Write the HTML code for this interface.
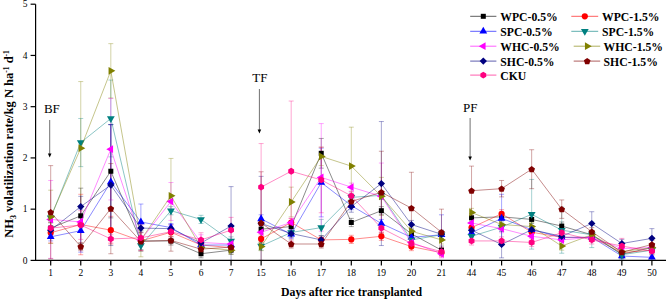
<!DOCTYPE html><html><head><meta charset="utf-8"><style>html,body{margin:0;padding:0;background:#fff;}svg{display:block;}text{font-family:"Liberation Serif",serif;}</style></head><body>
<svg width="668" height="299" viewBox="0 0 668 299">
<g stroke-width="0.7" fill="none">
<path d="M50.70 221.97V234.27M48.20 221.97h5M48.20 234.27h5" stroke="#000000" stroke-opacity="0.5"/>
<path d="M80.76 188.15V243.49M78.26 188.15h5M78.26 243.49h5" stroke="#000000" stroke-opacity="0.5"/>
<path d="M110.82 124.61V217.87M108.32 124.61h5M108.32 217.87h5" stroke="#000000" stroke-opacity="0.5"/>
<path d="M140.88 230.68V251.18M138.38 230.68h5M138.38 251.18h5" stroke="#000000" stroke-opacity="0.5"/>
<path d="M170.94 236.83V245.03M168.44 236.83h5M168.44 245.03h5" stroke="#000000" stroke-opacity="0.5"/>
<path d="M201.00 249.64V257.84M198.50 249.64h5M198.50 257.84h5" stroke="#000000" stroke-opacity="0.5"/>
<path d="M231.06 246.05V254.25M228.56 246.05h5M228.56 254.25h5" stroke="#000000" stroke-opacity="0.5"/>
<path d="M261.12 225.04V233.24M258.62 225.04h5M258.62 233.24h5" stroke="#000000" stroke-opacity="0.5"/>
<path d="M291.18 222.48V230.68M288.68 222.48h5M288.68 230.68h5" stroke="#000000" stroke-opacity="0.5"/>
<path d="M321.24 138.45V168.17M318.74 138.45h5M318.74 168.17h5" stroke="#000000" stroke-opacity="0.5"/>
<path d="M351.30 218.38V226.58M348.80 218.38h5M348.80 226.58h5" stroke="#000000" stroke-opacity="0.5"/>
<path d="M381.36 206.60V214.80M378.86 206.60h5M378.86 214.80h5" stroke="#000000" stroke-opacity="0.5"/>
<path d="M411.42 229.66V237.85M408.92 229.66h5M408.92 237.85h5" stroke="#000000" stroke-opacity="0.5"/>
<path d="M441.48 246.05V254.25M438.98 246.05h5M438.98 254.25h5" stroke="#000000" stroke-opacity="0.5"/>
<path d="M471.54 213.77V221.97M469.04 213.77h5M469.04 221.97h5" stroke="#000000" stroke-opacity="0.5"/>
<path d="M501.60 212.75V220.95M499.10 212.75h5M499.10 220.95h5" stroke="#000000" stroke-opacity="0.5"/>
<path d="M531.66 215.31V223.51M529.16 215.31h5M529.16 223.51h5" stroke="#000000" stroke-opacity="0.5"/>
<path d="M561.72 221.97V230.17M559.22 221.97h5M559.22 230.17h5" stroke="#000000" stroke-opacity="0.5"/>
<path d="M591.78 230.68V238.88M589.28 230.68h5M589.28 238.88h5" stroke="#000000" stroke-opacity="0.5"/>
<path d="M621.84 250.15V258.35M619.34 250.15h5M619.34 258.35h5" stroke="#000000" stroke-opacity="0.5"/>
<path d="M651.90 243.49V251.69M649.40 243.49h5M649.40 251.69h5" stroke="#000000" stroke-opacity="0.5"/>
<path d="M50.70 222.48V242.98M48.20 222.48h5M48.20 242.98h5" stroke="#ff0000" stroke-opacity="0.5"/>
<path d="M80.76 194.30V254.76M78.26 194.30h5M78.26 254.76h5" stroke="#ff0000" stroke-opacity="0.5"/>
<path d="M110.82 216.33V244.00M108.32 216.33h5M108.32 244.00h5" stroke="#ff0000" stroke-opacity="0.5"/>
<path d="M140.88 236.83V245.03M138.38 236.83h5M138.38 245.03h5" stroke="#ff0000" stroke-opacity="0.5"/>
<path d="M170.94 228.12V236.32M168.44 228.12h5M168.44 236.32h5" stroke="#ff0000" stroke-opacity="0.5"/>
<path d="M201.00 240.93V249.13M198.50 240.93h5M198.50 249.13h5" stroke="#ff0000" stroke-opacity="0.5"/>
<path d="M231.06 243.49V251.69M228.56 243.49h5M228.56 251.69h5" stroke="#ff0000" stroke-opacity="0.5"/>
<path d="M261.12 234.78V242.98M258.62 234.78h5M258.62 242.98h5" stroke="#ff0000" stroke-opacity="0.5"/>
<path d="M291.18 218.38V226.58M288.68 218.38h5M288.68 226.58h5" stroke="#ff0000" stroke-opacity="0.5"/>
<path d="M321.24 235.80V244.00M318.74 235.80h5M318.74 244.00h5" stroke="#ff0000" stroke-opacity="0.5"/>
<path d="M351.30 235.29V243.49M348.80 235.29h5M348.80 243.49h5" stroke="#ff0000" stroke-opacity="0.5"/>
<path d="M381.36 232.22V240.42M378.86 232.22h5M378.86 240.42h5" stroke="#ff0000" stroke-opacity="0.5"/>
<path d="M411.42 242.47V250.66M408.92 242.47h5M408.92 250.66h5" stroke="#ff0000" stroke-opacity="0.5"/>
<path d="M441.48 248.61V256.81M438.98 248.61h5M438.98 256.81h5" stroke="#ff0000" stroke-opacity="0.5"/>
<path d="M471.54 223.51V231.71M469.04 223.51h5M469.04 231.71h5" stroke="#ff0000" stroke-opacity="0.5"/>
<path d="M501.60 209.67V217.87M499.10 209.67h5M499.10 217.87h5" stroke="#ff0000" stroke-opacity="0.5"/>
<path d="M531.66 228.12V236.32M529.16 228.12h5M529.16 236.32h5" stroke="#ff0000" stroke-opacity="0.5"/>
<path d="M561.72 233.24V241.44M559.22 233.24h5M559.22 241.44h5" stroke="#ff0000" stroke-opacity="0.5"/>
<path d="M591.78 233.24V241.44M589.28 233.24h5M589.28 241.44h5" stroke="#ff0000" stroke-opacity="0.5"/>
<path d="M621.84 248.61V256.81M619.34 248.61h5M619.34 256.81h5" stroke="#ff0000" stroke-opacity="0.5"/>
<path d="M651.90 246.05V254.25M649.40 246.05h5M649.40 254.25h5" stroke="#ff0000" stroke-opacity="0.5"/>
<path d="M50.70 232.73V240.93M48.20 232.73h5M48.20 240.93h5" stroke="#0000ff" stroke-opacity="0.5"/>
<path d="M80.76 209.16V252.20M78.26 209.16h5M78.26 252.20h5" stroke="#0000ff" stroke-opacity="0.5"/>
<path d="M110.82 124.61V239.39M108.32 124.61h5M108.32 239.39h5" stroke="#0000ff" stroke-opacity="0.5"/>
<path d="M140.88 204.04V239.90M138.38 204.04h5M138.38 239.90h5" stroke="#0000ff" stroke-opacity="0.5"/>
<path d="M170.94 223.51V231.71M168.44 223.51h5M168.44 231.71h5" stroke="#0000ff" stroke-opacity="0.5"/>
<path d="M201.00 240.93V249.13M198.50 240.93h5M198.50 249.13h5" stroke="#0000ff" stroke-opacity="0.5"/>
<path d="M231.06 240.93V249.13M228.56 240.93h5M228.56 249.13h5" stroke="#0000ff" stroke-opacity="0.5"/>
<path d="M261.12 214.80V222.99M258.62 214.80h5M258.62 222.99h5" stroke="#0000ff" stroke-opacity="0.5"/>
<path d="M291.18 230.17V238.37M288.68 230.17h5M288.68 238.37h5" stroke="#0000ff" stroke-opacity="0.5"/>
<path d="M321.24 148.18V216.85M318.74 148.18h5M318.74 216.85h5" stroke="#0000ff" stroke-opacity="0.5"/>
<path d="M351.30 201.47V209.67M348.80 201.47h5M348.80 209.67h5" stroke="#0000ff" stroke-opacity="0.5"/>
<path d="M381.36 219.41V227.61M378.86 219.41h5M378.86 227.61h5" stroke="#0000ff" stroke-opacity="0.5"/>
<path d="M411.42 233.24V241.44M408.92 233.24h5M408.92 241.44h5" stroke="#0000ff" stroke-opacity="0.5"/>
<path d="M441.48 214.80V254.76M438.98 214.80h5M438.98 254.76h5" stroke="#0000ff" stroke-opacity="0.5"/>
<path d="M471.54 228.63V236.83M469.04 228.63h5M469.04 236.83h5" stroke="#0000ff" stroke-opacity="0.5"/>
<path d="M501.60 194.30V242.47M499.10 194.30h5M499.10 242.47h5" stroke="#0000ff" stroke-opacity="0.5"/>
<path d="M531.66 225.56V233.76M529.16 225.56h5M529.16 233.76h5" stroke="#0000ff" stroke-opacity="0.5"/>
<path d="M561.72 233.24V241.44M559.22 233.24h5M559.22 241.44h5" stroke="#0000ff" stroke-opacity="0.5"/>
<path d="M591.78 233.24V241.44M589.28 233.24h5M589.28 241.44h5" stroke="#0000ff" stroke-opacity="0.5"/>
<path d="M621.84 251.95V260.14M619.34 251.95h5M619.34 260.14h5" stroke="#0000ff" stroke-opacity="0.5"/>
<path d="M651.90 253.23V260.40M649.40 253.23h5M649.40 260.40h5" stroke="#0000ff" stroke-opacity="0.5"/>
<path d="M50.70 212.75V222.99M48.20 212.75h5M48.20 222.99h5" stroke="#008080" stroke-opacity="0.5"/>
<path d="M80.76 118.47V166.63M78.26 118.47h5M78.26 166.63h5" stroke="#008080" stroke-opacity="0.5"/>
<path d="M110.82 80.04V156.90M108.32 80.04h5M108.32 156.90h5" stroke="#008080" stroke-opacity="0.5"/>
<path d="M140.88 241.44V249.64M138.38 241.44h5M138.38 249.64h5" stroke="#008080" stroke-opacity="0.5"/>
<path d="M170.94 206.60V214.80M168.44 206.60h5M168.44 214.80h5" stroke="#008080" stroke-opacity="0.5"/>
<path d="M201.00 215.31V223.51M198.50 215.31h5M198.50 223.51h5" stroke="#008080" stroke-opacity="0.5"/>
<path d="M231.06 236.83V245.03M228.56 236.83h5M228.56 245.03h5" stroke="#008080" stroke-opacity="0.5"/>
<path d="M261.12 241.95V250.15M258.62 241.95h5M258.62 250.15h5" stroke="#008080" stroke-opacity="0.5"/>
<path d="M291.18 228.37V236.57M288.68 228.37h5M288.68 236.57h5" stroke="#008080" stroke-opacity="0.5"/>
<path d="M321.24 219.41V235.80M318.74 219.41h5M318.74 235.80h5" stroke="#008080" stroke-opacity="0.5"/>
<path d="M351.30 193.28V201.47M348.80 193.28h5M348.80 201.47h5" stroke="#008080" stroke-opacity="0.5"/>
<path d="M381.36 191.23V199.42M378.86 191.23h5M378.86 199.42h5" stroke="#008080" stroke-opacity="0.5"/>
<path d="M411.42 235.80V244.00M408.92 235.80h5M408.92 244.00h5" stroke="#008080" stroke-opacity="0.5"/>
<path d="M441.48 230.68V238.88M438.98 230.68h5M438.98 238.88h5" stroke="#008080" stroke-opacity="0.5"/>
<path d="M471.54 232.22V240.42M469.04 232.22h5M469.04 240.42h5" stroke="#008080" stroke-opacity="0.5"/>
<path d="M501.60 222.99V231.19M499.10 222.99h5M499.10 231.19h5" stroke="#008080" stroke-opacity="0.5"/>
<path d="M531.66 179.44V249.13M529.16 179.44h5M529.16 249.13h5" stroke="#008080" stroke-opacity="0.5"/>
<path d="M561.72 207.11V253.23M559.22 207.11h5M559.22 253.23h5" stroke="#008080" stroke-opacity="0.5"/>
<path d="M591.78 221.97V247.59M589.28 221.97h5M589.28 247.59h5" stroke="#008080" stroke-opacity="0.5"/>
<path d="M621.84 250.66V258.86M619.34 250.66h5M619.34 258.86h5" stroke="#008080" stroke-opacity="0.5"/>
<path d="M651.90 246.05V254.25M649.40 246.05h5M649.40 254.25h5" stroke="#008080" stroke-opacity="0.5"/>
<path d="M50.70 180.47V258.35M48.20 180.47h5M48.20 258.35h5" stroke="#ff00ff" stroke-opacity="0.5"/>
<path d="M80.76 217.87V226.07M78.26 217.87h5M78.26 226.07h5" stroke="#ff00ff" stroke-opacity="0.5"/>
<path d="M110.82 98.48V199.94M108.32 98.48h5M108.32 199.94h5" stroke="#ff00ff" stroke-opacity="0.5"/>
<path d="M140.88 235.80V244.00M138.38 235.80h5M138.38 244.00h5" stroke="#ff00ff" stroke-opacity="0.5"/>
<path d="M170.94 182.52V220.43M168.44 182.52h5M168.44 220.43h5" stroke="#ff00ff" stroke-opacity="0.5"/>
<path d="M201.00 234.78V250.15M198.50 234.78h5M198.50 250.15h5" stroke="#ff00ff" stroke-opacity="0.5"/>
<path d="M231.06 239.90V248.10M228.56 239.90h5M228.56 248.10h5" stroke="#ff00ff" stroke-opacity="0.5"/>
<path d="M261.12 228.12V236.32M258.62 228.12h5M258.62 236.32h5" stroke="#ff00ff" stroke-opacity="0.5"/>
<path d="M291.18 218.38V226.58M288.68 218.38h5M288.68 226.58h5" stroke="#ff00ff" stroke-opacity="0.5"/>
<path d="M321.24 123.59V231.19M318.74 123.59h5M318.74 231.19h5" stroke="#ff00ff" stroke-opacity="0.5"/>
<path d="M351.30 183.03V191.23M348.80 183.03h5M348.80 191.23h5" stroke="#ff00ff" stroke-opacity="0.5"/>
<path d="M381.36 163.04V229.66M378.86 163.04h5M378.86 229.66h5" stroke="#ff00ff" stroke-opacity="0.5"/>
<path d="M411.42 238.37V246.57M408.92 238.37h5M408.92 246.57h5" stroke="#ff00ff" stroke-opacity="0.5"/>
<path d="M441.48 249.64V257.84M438.98 249.64h5M438.98 257.84h5" stroke="#ff00ff" stroke-opacity="0.5"/>
<path d="M471.54 218.90V227.09M469.04 218.90h5M469.04 227.09h5" stroke="#ff00ff" stroke-opacity="0.5"/>
<path d="M501.60 224.53V232.73M499.10 224.53h5M499.10 232.73h5" stroke="#ff00ff" stroke-opacity="0.5"/>
<path d="M531.66 232.22V240.42M529.16 232.22h5M529.16 240.42h5" stroke="#ff00ff" stroke-opacity="0.5"/>
<path d="M561.72 235.80V244.00M559.22 235.80h5M559.22 244.00h5" stroke="#ff00ff" stroke-opacity="0.5"/>
<path d="M591.78 233.24V241.44M589.28 233.24h5M589.28 241.44h5" stroke="#ff00ff" stroke-opacity="0.5"/>
<path d="M621.84 244.52V252.71M619.34 244.52h5M619.34 252.71h5" stroke="#ff00ff" stroke-opacity="0.5"/>
<path d="M651.90 243.49V251.69M649.40 243.49h5M649.40 251.69h5" stroke="#ff00ff" stroke-opacity="0.5"/>
<path d="M50.70 190.20V243.49M48.20 190.20h5M48.20 243.49h5" stroke="#808000" stroke-opacity="0.5"/>
<path d="M80.76 81.57V214.80M78.26 81.57h5M78.26 214.80h5" stroke="#808000" stroke-opacity="0.5"/>
<path d="M110.82 43.65V97.97M108.32 43.65h5M108.32 97.97h5" stroke="#808000" stroke-opacity="0.5"/>
<path d="M140.88 222.99V256.81M138.38 222.99h5M138.38 256.81h5" stroke="#808000" stroke-opacity="0.5"/>
<path d="M170.94 158.43V233.24M168.44 158.43h5M168.44 233.24h5" stroke="#808000" stroke-opacity="0.5"/>
<path d="M201.00 243.49V251.69M198.50 243.49h5M198.50 251.69h5" stroke="#808000" stroke-opacity="0.5"/>
<path d="M231.06 246.05V254.25M228.56 246.05h5M228.56 254.25h5" stroke="#808000" stroke-opacity="0.5"/>
<path d="M261.12 242.47V250.66M258.62 242.47h5M258.62 250.66h5" stroke="#808000" stroke-opacity="0.5"/>
<path d="M291.18 187.13V216.85M288.68 187.13h5M288.68 216.85h5" stroke="#808000" stroke-opacity="0.5"/>
<path d="M321.24 147.16V165.61M318.74 147.16h5M318.74 165.61h5" stroke="#808000" stroke-opacity="0.5"/>
<path d="M351.30 127.18V205.06M348.80 127.18h5M348.80 205.06h5" stroke="#808000" stroke-opacity="0.5"/>
<path d="M381.36 177.39V215.31M378.86 177.39h5M378.86 215.31h5" stroke="#808000" stroke-opacity="0.5"/>
<path d="M411.42 227.09V235.29M408.92 227.09h5M408.92 235.29h5" stroke="#808000" stroke-opacity="0.5"/>
<path d="M441.48 235.80V244.00M438.98 235.80h5M438.98 244.00h5" stroke="#808000" stroke-opacity="0.5"/>
<path d="M471.54 208.39V216.59M469.04 208.39h5M469.04 216.59h5" stroke="#808000" stroke-opacity="0.5"/>
<path d="M501.60 220.43V228.63M499.10 220.43h5M499.10 228.63h5" stroke="#808000" stroke-opacity="0.5"/>
<path d="M531.66 222.48V230.68M529.16 222.48h5M529.16 230.68h5" stroke="#808000" stroke-opacity="0.5"/>
<path d="M561.72 241.95V250.15M559.22 241.95h5M559.22 250.15h5" stroke="#808000" stroke-opacity="0.5"/>
<path d="M591.78 230.68V238.88M589.28 230.68h5M589.28 238.88h5" stroke="#808000" stroke-opacity="0.5"/>
<path d="M621.84 247.59V255.79M619.34 247.59h5M619.34 255.79h5" stroke="#808000" stroke-opacity="0.5"/>
<path d="M651.90 243.49V251.69M649.40 243.49h5M649.40 251.69h5" stroke="#808000" stroke-opacity="0.5"/>
<path d="M50.70 226.07V234.27M48.20 226.07h5M48.20 234.27h5" stroke="#000080" stroke-opacity="0.5"/>
<path d="M80.76 196.35V216.85M78.26 196.35h5M78.26 216.85h5" stroke="#000080" stroke-opacity="0.5"/>
<path d="M110.82 124.61V245.54M108.32 124.61h5M108.32 245.54h5" stroke="#000080" stroke-opacity="0.5"/>
<path d="M140.88 224.02V232.22M138.38 224.02h5M138.38 232.22h5" stroke="#000080" stroke-opacity="0.5"/>
<path d="M170.94 224.53V232.73M168.44 224.53h5M168.44 232.73h5" stroke="#000080" stroke-opacity="0.5"/>
<path d="M201.00 238.88V247.08M198.50 238.88h5M198.50 247.08h5" stroke="#000080" stroke-opacity="0.5"/>
<path d="M231.06 186.61V260.40M228.56 186.61h5M228.56 260.40h5" stroke="#000080" stroke-opacity="0.5"/>
<path d="M261.12 176.37V260.40M258.62 176.37h5M258.62 260.40h5" stroke="#000080" stroke-opacity="0.5"/>
<path d="M291.18 229.40V237.60M288.68 229.40h5M288.68 237.60h5" stroke="#000080" stroke-opacity="0.5"/>
<path d="M321.24 235.80V244.00M318.74 235.80h5M318.74 244.00h5" stroke="#000080" stroke-opacity="0.5"/>
<path d="M351.30 200.96V212.23M348.80 200.96h5M348.80 212.23h5" stroke="#000080" stroke-opacity="0.5"/>
<path d="M381.36 121.54V245.54M378.86 121.54h5M378.86 245.54h5" stroke="#000080" stroke-opacity="0.5"/>
<path d="M411.42 220.43V228.63M408.92 220.43h5M408.92 228.63h5" stroke="#000080" stroke-opacity="0.5"/>
<path d="M441.48 230.17V238.37M438.98 230.17h5M438.98 238.37h5" stroke="#000080" stroke-opacity="0.5"/>
<path d="M471.54 226.07V234.27M469.04 226.07h5M469.04 234.27h5" stroke="#000080" stroke-opacity="0.5"/>
<path d="M501.60 231.19V257.84M499.10 231.19h5M499.10 257.84h5" stroke="#000080" stroke-opacity="0.5"/>
<path d="M531.66 225.56V233.76M529.16 225.56h5M529.16 233.76h5" stroke="#000080" stroke-opacity="0.5"/>
<path d="M561.72 232.22V240.42M559.22 232.22h5M559.22 240.42h5" stroke="#000080" stroke-opacity="0.5"/>
<path d="M591.78 211.72V235.29M589.28 211.72h5M589.28 235.29h5" stroke="#000080" stroke-opacity="0.5"/>
<path d="M621.84 239.39V247.59M619.34 239.39h5M619.34 247.59h5" stroke="#000080" stroke-opacity="0.5"/>
<path d="M651.90 228.63V248.10M649.40 228.63h5M649.40 248.10h5" stroke="#000080" stroke-opacity="0.5"/>
<path d="M50.70 165.61V258.86M48.20 165.61h5M48.20 258.86h5" stroke="#800000" stroke-opacity="0.5"/>
<path d="M80.76 242.47V250.66M78.26 242.47h5M78.26 250.66h5" stroke="#800000" stroke-opacity="0.5"/>
<path d="M110.82 163.56V253.74M108.32 163.56h5M108.32 253.74h5" stroke="#800000" stroke-opacity="0.5"/>
<path d="M140.88 232.73V250.15M138.38 232.73h5M138.38 250.15h5" stroke="#800000" stroke-opacity="0.5"/>
<path d="M170.94 229.66V251.18M168.44 229.66h5M168.44 251.18h5" stroke="#800000" stroke-opacity="0.5"/>
<path d="M201.00 245.03V253.23M198.50 245.03h5M198.50 253.23h5" stroke="#800000" stroke-opacity="0.5"/>
<path d="M231.06 242.98V251.18M228.56 242.98h5M228.56 251.18h5" stroke="#800000" stroke-opacity="0.5"/>
<path d="M261.12 171.75V260.40M258.62 171.75h5M258.62 260.40h5" stroke="#800000" stroke-opacity="0.5"/>
<path d="M291.18 239.90V248.10M288.68 239.90h5M288.68 248.10h5" stroke="#800000" stroke-opacity="0.5"/>
<path d="M321.24 239.90V248.10M318.74 239.90h5M318.74 248.10h5" stroke="#800000" stroke-opacity="0.5"/>
<path d="M351.30 197.37V205.57M348.80 197.37h5M348.80 205.57h5" stroke="#800000" stroke-opacity="0.5"/>
<path d="M381.36 151.26V233.24M378.86 151.26h5M378.86 233.24h5" stroke="#800000" stroke-opacity="0.5"/>
<path d="M411.42 172.27V244.00M408.92 172.27h5M408.92 244.00h5" stroke="#800000" stroke-opacity="0.5"/>
<path d="M441.48 209.16V255.28M438.98 209.16h5M438.98 255.28h5" stroke="#800000" stroke-opacity="0.5"/>
<path d="M471.54 166.12V215.31M469.04 166.12h5M469.04 215.31h5" stroke="#800000" stroke-opacity="0.5"/>
<path d="M501.60 180.47V196.86M499.10 180.47h5M499.10 196.86h5" stroke="#800000" stroke-opacity="0.5"/>
<path d="M531.66 149.72V188.66M529.16 149.72h5M529.16 188.66h5" stroke="#800000" stroke-opacity="0.5"/>
<path d="M561.72 199.94V218.38M559.22 199.94h5M559.22 218.38h5" stroke="#800000" stroke-opacity="0.5"/>
<path d="M591.78 227.61V235.80M589.28 227.61h5M589.28 235.80h5" stroke="#800000" stroke-opacity="0.5"/>
<path d="M621.84 248.10V256.30M619.34 248.10h5M619.34 256.30h5" stroke="#800000" stroke-opacity="0.5"/>
<path d="M651.90 240.42V248.61M649.40 240.42h5M649.40 248.61h5" stroke="#800000" stroke-opacity="0.5"/>
<path d="M50.70 220.43V235.80M48.20 220.43h5M48.20 235.80h5" stroke="#ff0080" stroke-opacity="0.5"/>
<path d="M80.76 210.70V239.39M78.26 210.70h5M78.26 239.39h5" stroke="#ff0080" stroke-opacity="0.5"/>
<path d="M110.82 234.78V242.98M108.32 234.78h5M108.32 242.98h5" stroke="#ff0080" stroke-opacity="0.5"/>
<path d="M140.88 225.04V250.66M138.38 225.04h5M138.38 250.66h5" stroke="#ff0080" stroke-opacity="0.5"/>
<path d="M170.94 225.04V238.37M168.44 225.04h5M168.44 238.37h5" stroke="#ff0080" stroke-opacity="0.5"/>
<path d="M201.00 232.73V247.08M198.50 232.73h5M198.50 247.08h5" stroke="#ff0080" stroke-opacity="0.5"/>
<path d="M231.06 217.36V242.98M228.56 217.36h5M228.56 242.98h5" stroke="#ff0080" stroke-opacity="0.5"/>
<path d="M261.12 143.57V230.68M258.62 143.57h5M258.62 230.68h5" stroke="#ff0080" stroke-opacity="0.5"/>
<path d="M291.18 101.04V241.44M288.68 101.04h5M288.68 241.44h5" stroke="#ff0080" stroke-opacity="0.5"/>
<path d="M321.24 147.16V212.75M318.74 147.16h5M318.74 212.75h5" stroke="#ff0080" stroke-opacity="0.5"/>
<path d="M351.30 191.74V199.94M348.80 191.74h5M348.80 199.94h5" stroke="#ff0080" stroke-opacity="0.5"/>
<path d="M381.36 224.02V232.22M378.86 224.02h5M378.86 232.22h5" stroke="#ff0080" stroke-opacity="0.5"/>
<path d="M411.42 239.39V247.59M408.92 239.39h5M408.92 247.59h5" stroke="#ff0080" stroke-opacity="0.5"/>
<path d="M441.48 247.59V255.79M438.98 247.59h5M438.98 255.79h5" stroke="#ff0080" stroke-opacity="0.5"/>
<path d="M471.54 236.83V245.03M469.04 236.83h5M469.04 245.03h5" stroke="#ff0080" stroke-opacity="0.5"/>
<path d="M501.60 236.83V245.03M499.10 236.83h5M499.10 245.03h5" stroke="#ff0080" stroke-opacity="0.5"/>
<path d="M531.66 238.37V246.57M529.16 238.37h5M529.16 246.57h5" stroke="#ff0080" stroke-opacity="0.5"/>
<path d="M561.72 228.63V236.83M559.22 228.63h5M559.22 236.83h5" stroke="#ff0080" stroke-opacity="0.5"/>
<path d="M591.78 235.80V244.00M589.28 235.80h5M589.28 244.00h5" stroke="#ff0080" stroke-opacity="0.5"/>
<path d="M621.84 238.37V253.74M619.34 238.37h5M619.34 253.74h5" stroke="#ff0080" stroke-opacity="0.5"/>
<path d="M651.90 247.08V255.28M649.40 247.08h5M649.40 255.28h5" stroke="#ff0080" stroke-opacity="0.5"/>
</g>
<g stroke="#000000" stroke-width="0.7" fill="none" stroke-opacity="0.65">
<path d="M50.70 228.12 L80.76 215.82 L110.82 171.24 L140.88 240.93 L170.94 240.93 L201.00 253.74 L231.06 250.15"/>
<path d="M261.12 229.14 L291.18 226.58 L321.24 153.31 L351.30 222.48 L381.36 210.70 L411.42 233.76 L441.48 250.15"/>
<path d="M471.54 217.87 L501.60 216.85 L531.66 219.41 L561.72 226.07 L591.78 234.78 L621.84 254.25 L651.90 247.59"/>
</g>
<g>
<rect x="48.20" y="225.62" width="5.00" height="5.00" fill="#000000"/>
<rect x="78.26" y="213.32" width="5.00" height="5.00" fill="#000000"/>
<rect x="108.32" y="168.74" width="5.00" height="5.00" fill="#000000"/>
<rect x="138.38" y="238.43" width="5.00" height="5.00" fill="#000000"/>
<rect x="168.44" y="238.43" width="5.00" height="5.00" fill="#000000"/>
<rect x="198.50" y="251.24" width="5.00" height="5.00" fill="#000000"/>
<rect x="228.56" y="247.65" width="5.00" height="5.00" fill="#000000"/>
<rect x="258.62" y="226.64" width="5.00" height="5.00" fill="#000000"/>
<rect x="288.68" y="224.08" width="5.00" height="5.00" fill="#000000"/>
<rect x="318.74" y="150.81" width="5.00" height="5.00" fill="#000000"/>
<rect x="348.80" y="219.98" width="5.00" height="5.00" fill="#000000"/>
<rect x="378.86" y="208.20" width="5.00" height="5.00" fill="#000000"/>
<rect x="408.92" y="231.26" width="5.00" height="5.00" fill="#000000"/>
<rect x="438.98" y="247.65" width="5.00" height="5.00" fill="#000000"/>
<rect x="469.04" y="215.37" width="5.00" height="5.00" fill="#000000"/>
<rect x="499.10" y="214.35" width="5.00" height="5.00" fill="#000000"/>
<rect x="529.16" y="216.91" width="5.00" height="5.00" fill="#000000"/>
<rect x="559.22" y="223.57" width="5.00" height="5.00" fill="#000000"/>
<rect x="589.28" y="232.28" width="5.00" height="5.00" fill="#000000"/>
<rect x="619.34" y="251.75" width="5.00" height="5.00" fill="#000000"/>
<rect x="649.40" y="245.09" width="5.00" height="5.00" fill="#000000"/>
</g>
<g stroke="#ff0000" stroke-width="0.7" fill="none" stroke-opacity="0.65">
<path d="M50.70 232.73 L80.76 224.53 L110.82 230.17 L140.88 240.93 L170.94 232.22 L201.00 245.03 L231.06 247.59"/>
<path d="M261.12 238.88 L291.18 222.48 L321.24 239.90 L351.30 239.39 L381.36 236.32 L411.42 246.57 L441.48 252.71"/>
<path d="M471.54 227.61 L501.60 213.77 L531.66 232.22 L561.72 237.34 L591.78 237.34 L621.84 252.71 L651.90 250.15"/>
</g>
<g>
<circle cx="50.70" cy="232.73" r="3.10" fill="#ff0000"/>
<circle cx="80.76" cy="224.53" r="3.10" fill="#ff0000"/>
<circle cx="110.82" cy="230.17" r="3.10" fill="#ff0000"/>
<circle cx="140.88" cy="240.93" r="3.10" fill="#ff0000"/>
<circle cx="170.94" cy="232.22" r="3.10" fill="#ff0000"/>
<circle cx="201.00" cy="245.03" r="3.10" fill="#ff0000"/>
<circle cx="231.06" cy="247.59" r="3.10" fill="#ff0000"/>
<circle cx="261.12" cy="238.88" r="3.10" fill="#ff0000"/>
<circle cx="291.18" cy="222.48" r="3.10" fill="#ff0000"/>
<circle cx="321.24" cy="239.90" r="3.10" fill="#ff0000"/>
<circle cx="351.30" cy="239.39" r="3.10" fill="#ff0000"/>
<circle cx="381.36" cy="236.32" r="3.10" fill="#ff0000"/>
<circle cx="411.42" cy="246.57" r="3.10" fill="#ff0000"/>
<circle cx="441.48" cy="252.71" r="3.10" fill="#ff0000"/>
<circle cx="471.54" cy="227.61" r="3.10" fill="#ff0000"/>
<circle cx="501.60" cy="213.77" r="3.10" fill="#ff0000"/>
<circle cx="531.66" cy="232.22" r="3.10" fill="#ff0000"/>
<circle cx="561.72" cy="237.34" r="3.10" fill="#ff0000"/>
<circle cx="591.78" cy="237.34" r="3.10" fill="#ff0000"/>
<circle cx="621.84" cy="252.71" r="3.10" fill="#ff0000"/>
<circle cx="651.90" cy="250.15" r="3.10" fill="#ff0000"/>
</g>
<g stroke="#0000ff" stroke-width="0.7" fill="none" stroke-opacity="0.65">
<path d="M50.70 236.83 L80.76 230.68 L110.82 182.00 L140.88 221.97 L170.94 227.61 L201.00 245.03 L231.06 245.03"/>
<path d="M261.12 218.90 L291.18 234.27 L321.24 182.52 L351.30 205.57 L381.36 223.51 L411.42 237.34 L441.48 234.78"/>
<path d="M471.54 232.73 L501.60 218.38 L531.66 229.66 L561.72 237.34 L591.78 237.34 L621.84 256.04 L651.90 257.33"/>
</g>
<g>
<polygon points="50.70,232.30 54.60,239.10 46.80,239.10" fill="#0000ff"/>
<polygon points="80.76,226.15 84.66,232.95 76.86,232.95" fill="#0000ff"/>
<polygon points="110.82,177.47 114.72,184.27 106.92,184.27" fill="#0000ff"/>
<polygon points="140.88,217.44 144.78,224.24 136.98,224.24" fill="#0000ff"/>
<polygon points="170.94,223.07 174.84,229.87 167.04,229.87" fill="#0000ff"/>
<polygon points="201.00,240.49 204.90,247.29 197.10,247.29" fill="#0000ff"/>
<polygon points="231.06,240.49 234.96,247.29 227.16,247.29" fill="#0000ff"/>
<polygon points="261.12,214.36 265.02,221.16 257.22,221.16" fill="#0000ff"/>
<polygon points="291.18,229.73 295.08,236.53 287.28,236.53" fill="#0000ff"/>
<polygon points="321.24,177.98 325.14,184.78 317.34,184.78" fill="#0000ff"/>
<polygon points="351.30,201.04 355.20,207.84 347.40,207.84" fill="#0000ff"/>
<polygon points="381.36,218.97 385.26,225.77 377.46,225.77" fill="#0000ff"/>
<polygon points="411.42,232.81 415.32,239.61 407.52,239.61" fill="#0000ff"/>
<polygon points="441.48,230.25 445.38,237.05 437.58,237.05" fill="#0000ff"/>
<polygon points="471.54,228.20 475.44,235.00 467.64,235.00" fill="#0000ff"/>
<polygon points="501.60,213.85 505.50,220.65 497.70,220.65" fill="#0000ff"/>
<polygon points="531.66,225.12 535.56,231.92 527.76,231.92" fill="#0000ff"/>
<polygon points="561.72,232.81 565.62,239.61 557.82,239.61" fill="#0000ff"/>
<polygon points="591.78,232.81 595.68,239.61 587.88,239.61" fill="#0000ff"/>
<polygon points="621.84,251.51 625.74,258.31 617.94,258.31" fill="#0000ff"/>
<polygon points="651.90,252.79 655.80,259.59 648.00,259.59" fill="#0000ff"/>
</g>
<g stroke="#008080" stroke-width="0.7" fill="none" stroke-opacity="0.65">
<path d="M50.70 217.87 L80.76 142.55 L110.82 118.47 L140.88 245.54 L170.94 210.70 L201.00 219.41 L231.06 240.93"/>
<path d="M261.12 246.05 L291.18 232.47 L321.24 227.61 L351.30 197.37 L381.36 195.33 L411.42 239.90 L441.48 234.78"/>
<path d="M471.54 236.32 L501.60 227.09 L531.66 214.28 L561.72 230.17 L591.78 234.78 L621.84 254.76 L651.90 250.15"/>
</g>
<g>
<polygon points="50.70,222.40 54.60,215.60 46.80,215.60" fill="#008080"/>
<polygon points="80.76,147.08 84.66,140.28 76.86,140.28" fill="#008080"/>
<polygon points="110.82,123.00 114.72,116.20 106.92,116.20" fill="#008080"/>
<polygon points="140.88,250.07 144.78,243.27 136.98,243.27" fill="#008080"/>
<polygon points="170.94,215.23 174.84,208.43 167.04,208.43" fill="#008080"/>
<polygon points="201.00,223.94 204.90,217.14 197.10,217.14" fill="#008080"/>
<polygon points="231.06,245.46 234.96,238.66 227.16,238.66" fill="#008080"/>
<polygon points="261.12,250.59 265.02,243.79 257.22,243.79" fill="#008080"/>
<polygon points="291.18,237.01 295.08,230.21 287.28,230.21" fill="#008080"/>
<polygon points="321.24,232.14 325.14,225.34 317.34,225.34" fill="#008080"/>
<polygon points="351.30,201.91 355.20,195.11 347.40,195.11" fill="#008080"/>
<polygon points="381.36,199.86 385.26,193.06 377.46,193.06" fill="#008080"/>
<polygon points="411.42,244.44 415.32,237.64 407.52,237.64" fill="#008080"/>
<polygon points="441.48,239.31 445.38,232.51 437.58,232.51" fill="#008080"/>
<polygon points="471.54,240.85 475.44,234.05 467.64,234.05" fill="#008080"/>
<polygon points="501.60,231.63 505.50,224.83 497.70,224.83" fill="#008080"/>
<polygon points="531.66,218.82 535.56,212.02 527.76,212.02" fill="#008080"/>
<polygon points="561.72,234.70 565.62,227.90 557.82,227.90" fill="#008080"/>
<polygon points="591.78,239.31 595.68,232.51 587.88,232.51" fill="#008080"/>
<polygon points="621.84,259.30 625.74,252.50 617.94,252.50" fill="#008080"/>
<polygon points="651.90,254.69 655.80,247.89 648.00,247.89" fill="#008080"/>
</g>
<g stroke="#ff00ff" stroke-width="0.7" fill="none" stroke-opacity="0.65">
<path d="M50.70 219.41 L80.76 221.97 L110.82 149.21 L140.88 239.90 L170.94 201.47 L201.00 242.47 L231.06 244.00"/>
<path d="M261.12 232.22 L291.18 222.48 L321.24 177.39 L351.30 187.13 L381.36 196.35 L411.42 242.47 L441.48 253.74"/>
<path d="M471.54 222.99 L501.60 228.63 L531.66 236.32 L561.72 239.90 L591.78 237.34 L621.84 248.61 L651.90 247.59"/>
</g>
<g>
<polygon points="46.17,219.41 52.97,215.51 52.97,223.31" fill="#ff00ff"/>
<polygon points="76.23,221.97 83.03,218.07 83.03,225.87" fill="#ff00ff"/>
<polygon points="106.29,149.21 113.09,145.31 113.09,153.11" fill="#ff00ff"/>
<polygon points="136.35,239.90 143.15,236.00 143.15,243.80" fill="#ff00ff"/>
<polygon points="166.41,201.47 173.21,197.57 173.21,205.37" fill="#ff00ff"/>
<polygon points="196.47,242.47 203.27,238.57 203.27,246.37" fill="#ff00ff"/>
<polygon points="226.53,244.00 233.33,240.10 233.33,247.90" fill="#ff00ff"/>
<polygon points="256.59,232.22 263.39,228.32 263.39,236.12" fill="#ff00ff"/>
<polygon points="286.65,222.48 293.45,218.58 293.45,226.38" fill="#ff00ff"/>
<polygon points="316.71,177.39 323.51,173.49 323.51,181.29" fill="#ff00ff"/>
<polygon points="346.77,187.13 353.57,183.23 353.57,191.03" fill="#ff00ff"/>
<polygon points="376.83,196.35 383.63,192.45 383.63,200.25" fill="#ff00ff"/>
<polygon points="406.89,242.47 413.69,238.57 413.69,246.37" fill="#ff00ff"/>
<polygon points="436.95,253.74 443.75,249.84 443.75,257.64" fill="#ff00ff"/>
<polygon points="467.01,222.99 473.81,219.09 473.81,226.89" fill="#ff00ff"/>
<polygon points="497.07,228.63 503.87,224.73 503.87,232.53" fill="#ff00ff"/>
<polygon points="527.13,236.32 533.93,232.42 533.93,240.22" fill="#ff00ff"/>
<polygon points="557.19,239.90 563.99,236.00 563.99,243.80" fill="#ff00ff"/>
<polygon points="587.25,237.34 594.05,233.44 594.05,241.24" fill="#ff00ff"/>
<polygon points="617.31,248.61 624.11,244.71 624.11,252.51" fill="#ff00ff"/>
<polygon points="647.37,247.59 654.17,243.69 654.17,251.49" fill="#ff00ff"/>
</g>
<g stroke="#808000" stroke-width="0.7" fill="none" stroke-opacity="0.65">
<path d="M50.70 216.85 L80.76 148.18 L110.82 70.81 L140.88 239.90 L170.94 195.84 L201.00 247.59 L231.06 250.15"/>
<path d="M261.12 246.57 L291.18 201.99 L321.24 156.38 L351.30 166.12 L381.36 196.35 L411.42 231.19 L441.48 239.90"/>
<path d="M471.54 212.49 L501.60 224.53 L531.66 226.58 L561.72 246.05 L591.78 234.78 L621.84 251.69 L651.90 247.59"/>
</g>
<g>
<polygon points="55.23,216.85 48.43,212.95 48.43,220.75" fill="#808000"/>
<polygon points="85.29,148.18 78.49,144.28 78.49,152.08" fill="#808000"/>
<polygon points="115.35,70.81 108.55,66.91 108.55,74.71" fill="#808000"/>
<polygon points="145.41,239.90 138.61,236.00 138.61,243.80" fill="#808000"/>
<polygon points="175.47,195.84 168.67,191.94 168.67,199.74" fill="#808000"/>
<polygon points="205.53,247.59 198.73,243.69 198.73,251.49" fill="#808000"/>
<polygon points="235.59,250.15 228.79,246.25 228.79,254.05" fill="#808000"/>
<polygon points="265.65,246.57 258.85,242.67 258.85,250.47" fill="#808000"/>
<polygon points="295.71,201.99 288.91,198.09 288.91,205.89" fill="#808000"/>
<polygon points="325.77,156.38 318.97,152.48 318.97,160.28" fill="#808000"/>
<polygon points="355.83,166.12 349.03,162.22 349.03,170.02" fill="#808000"/>
<polygon points="385.89,196.35 379.09,192.45 379.09,200.25" fill="#808000"/>
<polygon points="415.95,231.19 409.15,227.29 409.15,235.09" fill="#808000"/>
<polygon points="446.01,239.90 439.21,236.00 439.21,243.80" fill="#808000"/>
<polygon points="476.07,212.49 469.27,208.59 469.27,216.39" fill="#808000"/>
<polygon points="506.13,224.53 499.33,220.63 499.33,228.43" fill="#808000"/>
<polygon points="536.19,226.58 529.39,222.68 529.39,230.48" fill="#808000"/>
<polygon points="566.25,246.05 559.45,242.15 559.45,249.95" fill="#808000"/>
<polygon points="596.31,234.78 589.51,230.88 589.51,238.68" fill="#808000"/>
<polygon points="626.37,251.69 619.57,247.79 619.57,255.59" fill="#808000"/>
<polygon points="656.43,247.59 649.63,243.69 649.63,251.49" fill="#808000"/>
</g>
<g stroke="#000080" stroke-width="0.7" fill="none" stroke-opacity="0.65">
<path d="M50.70 230.17 L80.76 206.60 L110.82 185.08 L140.88 228.12 L170.94 228.63 L201.00 242.98 L231.06 226.07"/>
<path d="M261.12 223.51 L291.18 233.50 L321.24 239.90 L351.30 206.60 L381.36 183.54 L411.42 224.53 L441.48 234.27"/>
<path d="M471.54 230.17 L501.60 244.52 L531.66 229.66 L561.72 236.32 L591.78 223.51 L621.84 243.49 L651.90 238.37"/>
</g>
<g>
<polygon points="50.70,226.57 54.35,230.17 50.70,233.77 47.05,230.17" fill="#000080"/>
<polygon points="80.76,203.00 84.41,206.60 80.76,210.20 77.11,206.60" fill="#000080"/>
<polygon points="110.82,181.48 114.47,185.08 110.82,188.68 107.17,185.08" fill="#000080"/>
<polygon points="140.88,224.52 144.53,228.12 140.88,231.72 137.23,228.12" fill="#000080"/>
<polygon points="170.94,225.03 174.59,228.63 170.94,232.23 167.29,228.63" fill="#000080"/>
<polygon points="201.00,239.38 204.65,242.98 201.00,246.58 197.35,242.98" fill="#000080"/>
<polygon points="231.06,222.47 234.71,226.07 231.06,229.67 227.41,226.07" fill="#000080"/>
<polygon points="261.12,219.91 264.77,223.51 261.12,227.11 257.47,223.51" fill="#000080"/>
<polygon points="291.18,229.90 294.83,233.50 291.18,237.10 287.53,233.50" fill="#000080"/>
<polygon points="321.24,236.30 324.89,239.90 321.24,243.50 317.59,239.90" fill="#000080"/>
<polygon points="351.30,203.00 354.95,206.60 351.30,210.20 347.65,206.60" fill="#000080"/>
<polygon points="381.36,179.94 385.01,183.54 381.36,187.14 377.71,183.54" fill="#000080"/>
<polygon points="411.42,220.93 415.07,224.53 411.42,228.13 407.77,224.53" fill="#000080"/>
<polygon points="441.48,230.67 445.13,234.27 441.48,237.87 437.83,234.27" fill="#000080"/>
<polygon points="471.54,226.57 475.19,230.17 471.54,233.77 467.89,230.17" fill="#000080"/>
<polygon points="501.60,240.92 505.25,244.52 501.60,248.12 497.95,244.52" fill="#000080"/>
<polygon points="531.66,226.06 535.31,229.66 531.66,233.26 528.01,229.66" fill="#000080"/>
<polygon points="561.72,232.72 565.37,236.32 561.72,239.92 558.07,236.32" fill="#000080"/>
<polygon points="591.78,219.91 595.43,223.51 591.78,227.11 588.13,223.51" fill="#000080"/>
<polygon points="621.84,239.89 625.49,243.49 621.84,247.09 618.19,243.49" fill="#000080"/>
<polygon points="651.90,234.77 655.55,238.37 651.90,241.97 648.25,238.37" fill="#000080"/>
</g>
<g stroke="#800000" stroke-width="0.7" fill="none" stroke-opacity="0.65">
<path d="M50.70 212.23 L80.76 246.57 L110.82 208.65 L140.88 241.44 L170.94 240.42 L201.00 249.13 L231.06 247.08"/>
<path d="M261.12 222.99 L291.18 244.00 L321.24 244.00 L351.30 201.47 L381.36 192.25 L411.42 208.14 L441.48 232.22"/>
<path d="M471.54 190.71 L501.60 188.66 L531.66 169.19 L561.72 209.16 L591.78 231.71 L621.84 252.20 L651.90 244.52"/>
</g>
<g>
<polygon points="50.70,209.03 54.03,211.45 52.76,215.37 48.64,215.37 47.37,211.45" fill="#800000"/>
<polygon points="80.76,243.37 84.09,245.78 82.82,249.70 78.70,249.70 77.43,245.78" fill="#800000"/>
<polygon points="110.82,205.45 114.15,207.87 112.88,211.78 108.76,211.78 107.49,207.87" fill="#800000"/>
<polygon points="140.88,238.24 144.21,240.66 142.94,244.57 138.82,244.57 137.55,240.66" fill="#800000"/>
<polygon points="170.94,237.22 174.27,239.63 173.00,243.55 168.88,243.55 167.61,239.63" fill="#800000"/>
<polygon points="201.00,245.93 204.33,248.35 203.06,252.26 198.94,252.26 197.67,248.35" fill="#800000"/>
<polygon points="231.06,243.88 234.39,246.30 233.12,250.21 229.00,250.21 227.73,246.30" fill="#800000"/>
<polygon points="261.12,219.79 264.45,222.21 263.18,226.13 259.06,226.13 257.79,222.21" fill="#800000"/>
<polygon points="291.18,240.80 294.51,243.22 293.24,247.13 289.12,247.13 287.85,243.22" fill="#800000"/>
<polygon points="321.24,240.80 324.57,243.22 323.30,247.13 319.18,247.13 317.91,243.22" fill="#800000"/>
<polygon points="351.30,198.27 354.63,200.69 353.36,204.61 349.24,204.61 347.97,200.69" fill="#800000"/>
<polygon points="381.36,189.05 384.69,191.47 383.42,195.38 379.30,195.38 378.03,191.47" fill="#800000"/>
<polygon points="411.42,204.94 414.75,207.35 413.48,211.27 409.36,211.27 408.09,207.35" fill="#800000"/>
<polygon points="441.48,229.02 444.81,231.44 443.54,235.35 439.42,235.35 438.15,231.44" fill="#800000"/>
<polygon points="471.54,187.51 474.87,189.93 473.60,193.85 469.48,193.85 468.21,189.93" fill="#800000"/>
<polygon points="501.60,185.46 504.93,187.88 503.66,191.80 499.54,191.80 498.27,187.88" fill="#800000"/>
<polygon points="531.66,165.99 534.99,168.41 533.72,172.32 529.60,172.32 528.33,168.41" fill="#800000"/>
<polygon points="561.72,205.96 565.05,208.38 563.78,212.29 559.66,212.29 558.39,208.38" fill="#800000"/>
<polygon points="591.78,228.51 595.11,230.92 593.84,234.84 589.72,234.84 588.45,230.92" fill="#800000"/>
<polygon points="621.84,249.00 625.17,251.42 623.90,255.33 619.78,255.33 618.51,251.42" fill="#800000"/>
<polygon points="651.90,241.32 655.23,243.73 653.96,247.65 649.84,247.65 648.57,243.73" fill="#800000"/>
</g>
<g stroke="#ff0080" stroke-width="0.7" fill="none" stroke-opacity="0.65">
<path d="M50.70 228.12 L80.76 225.04 L110.82 238.88 L140.88 237.85 L170.94 231.71 L201.00 239.90 L231.06 230.17"/>
<path d="M261.12 187.13 L291.18 171.24 L321.24 179.95 L351.30 195.84 L381.36 228.12 L411.42 243.49 L441.48 251.69"/>
<path d="M471.54 240.93 L501.60 240.93 L531.66 242.47 L561.72 232.73 L591.78 239.90 L621.84 246.05 L651.90 251.18"/>
</g>
<g>
<polygon points="50.70,224.72 53.64,226.42 53.64,229.82 50.70,231.52 47.76,229.82 47.76,226.42" fill="#ff0080"/>
<polygon points="80.76,221.64 83.70,223.34 83.70,226.74 80.76,228.44 77.82,226.74 77.82,223.34" fill="#ff0080"/>
<polygon points="110.82,235.48 113.76,237.18 113.76,240.58 110.82,242.28 107.88,240.58 107.88,237.18" fill="#ff0080"/>
<polygon points="140.88,234.45 143.82,236.15 143.82,239.55 140.88,241.25 137.94,239.55 137.94,236.15" fill="#ff0080"/>
<polygon points="170.94,228.31 173.88,230.01 173.88,233.41 170.94,235.11 168.00,233.41 168.00,230.01" fill="#ff0080"/>
<polygon points="201.00,236.50 203.94,238.20 203.94,241.60 201.00,243.30 198.06,241.60 198.06,238.20" fill="#ff0080"/>
<polygon points="231.06,226.77 234.00,228.47 234.00,231.87 231.06,233.57 228.12,231.87 228.12,228.47" fill="#ff0080"/>
<polygon points="261.12,183.73 264.06,185.43 264.06,188.83 261.12,190.53 258.18,188.83 258.18,185.43" fill="#ff0080"/>
<polygon points="291.18,167.84 294.12,169.54 294.12,172.94 291.18,174.64 288.24,172.94 288.24,169.54" fill="#ff0080"/>
<polygon points="321.24,176.55 324.18,178.25 324.18,181.65 321.24,183.35 318.30,181.65 318.30,178.25" fill="#ff0080"/>
<polygon points="351.30,192.44 354.24,194.14 354.24,197.54 351.30,199.24 348.36,197.54 348.36,194.14" fill="#ff0080"/>
<polygon points="381.36,224.72 384.30,226.42 384.30,229.82 381.36,231.52 378.42,229.82 378.42,226.42" fill="#ff0080"/>
<polygon points="411.42,240.09 414.36,241.79 414.36,245.19 411.42,246.89 408.48,245.19 408.48,241.79" fill="#ff0080"/>
<polygon points="441.48,248.29 444.42,249.99 444.42,253.39 441.48,255.09 438.54,253.39 438.54,249.99" fill="#ff0080"/>
<polygon points="471.54,237.53 474.48,239.23 474.48,242.63 471.54,244.33 468.60,242.63 468.60,239.23" fill="#ff0080"/>
<polygon points="501.60,237.53 504.54,239.23 504.54,242.63 501.60,244.33 498.66,242.63 498.66,239.23" fill="#ff0080"/>
<polygon points="531.66,239.07 534.60,240.77 534.60,244.17 531.66,245.87 528.72,244.17 528.72,240.77" fill="#ff0080"/>
<polygon points="561.72,229.33 564.66,231.03 564.66,234.43 561.72,236.13 558.78,234.43 558.78,231.03" fill="#ff0080"/>
<polygon points="591.78,236.50 594.72,238.20 594.72,241.60 591.78,243.30 588.84,241.60 588.84,238.20" fill="#ff0080"/>
<polygon points="621.84,242.65 624.78,244.35 624.78,247.75 621.84,249.45 618.90,247.75 618.90,244.35" fill="#ff0080"/>
<polygon points="651.90,247.78 654.84,249.48 654.84,252.88 651.90,254.58 648.96,252.88 648.96,249.48" fill="#ff0080"/>
</g>
<g stroke="#000" stroke-width="1.2" fill="none">
<path d="M35.6 4.2V260.4H666"/>
<path d="M30.6 260.40H35.6"/>
<path d="M30.6 209.16H35.6"/>
<path d="M30.6 157.92H35.6"/>
<path d="M30.6 106.68H35.6"/>
<path d="M30.6 55.44H35.6"/>
<path d="M30.6 4.20H35.6"/>
<path d="M50.70 260.4V265.5"/>
<path d="M80.76 260.4V265.5"/>
<path d="M110.82 260.4V265.5"/>
<path d="M140.88 260.4V265.5"/>
<path d="M170.94 260.4V265.5"/>
<path d="M201.00 260.4V265.5"/>
<path d="M231.06 260.4V265.5"/>
<path d="M261.12 260.4V265.5"/>
<path d="M291.18 260.4V265.5"/>
<path d="M321.24 260.4V265.5"/>
<path d="M351.30 260.4V265.5"/>
<path d="M381.36 260.4V265.5"/>
<path d="M411.42 260.4V265.5"/>
<path d="M441.48 260.4V265.5"/>
<path d="M471.54 260.4V265.5"/>
<path d="M501.60 260.4V265.5"/>
<path d="M531.66 260.4V265.5"/>
<path d="M561.72 260.4V265.5"/>
<path d="M591.78 260.4V265.5"/>
<path d="M621.84 260.4V265.5"/>
<path d="M651.90 260.4V265.5"/>
</g>
<g font-size="9.5" fill="#000" text-anchor="middle">
<text x="25" y="263.70">0</text>
<text x="25" y="212.46">1</text>
<text x="25" y="161.22">2</text>
<text x="25" y="109.98">3</text>
<text x="25" y="58.74">4</text>
<text x="25" y="6.70">5</text>
<text x="50.70" y="276.3">1</text>
<text x="80.76" y="276.3">2</text>
<text x="110.82" y="276.3">3</text>
<text x="140.88" y="276.3">4</text>
<text x="170.94" y="276.3">5</text>
<text x="201.00" y="276.3">6</text>
<text x="231.06" y="276.3">7</text>
<text x="261.12" y="276.3">15</text>
<text x="291.18" y="276.3">16</text>
<text x="321.24" y="276.3">17</text>
<text x="351.30" y="276.3">18</text>
<text x="381.36" y="276.3">19</text>
<text x="411.42" y="276.3">20</text>
<text x="441.48" y="276.3">21</text>
<text x="471.54" y="276.3">44</text>
<text x="501.60" y="276.3">45</text>
<text x="531.66" y="276.3">46</text>
<text x="561.72" y="276.3">47</text>
<text x="591.78" y="276.3">48</text>
<text x="621.84" y="276.3">49</text>
<text x="651.90" y="276.3">50</text>
</g>
<text x="351.5" y="295.5" font-size="11.8" font-weight="bold" text-anchor="middle">Days after rice transplanted</text>
<text transform="translate(12.8,144) rotate(-90)" font-size="12.5" font-weight="bold" text-anchor="middle">NH<tspan font-size="8" dy="3">3</tspan><tspan dy="-3"> volatilization rate/kg N ha</tspan><tspan font-size="7.5" dy="-4">-1</tspan><tspan dy="4"> d</tspan><tspan font-size="7.5" dy="-4">-1</tspan></text>
<text x="51.9" y="113.3" font-size="13" text-anchor="middle">BF</text>
<path d="M49.7 120V154.5" stroke="#333" stroke-width="0.7"/>
<polygon points="47.9,153.5 51.5,153.5 49.7,157.5" fill="#000"/>
<text x="259.9" y="82" font-size="13" text-anchor="middle">TF</text>
<path d="M259.4 89V130.5" stroke="#333" stroke-width="0.7"/>
<polygon points="257.6,129.5 261.2,129.5 259.4,133.5" fill="#000"/>
<text x="470.2" y="112.3" font-size="13" text-anchor="middle">PF</text>
<path d="M470.1 118V157.5" stroke="#333" stroke-width="0.7"/>
<polygon points="468.3,156.5 471.9,156.5 470.1,160.5" fill="#000"/>
<path d="M470.2 16.3H496.4" stroke="#000000" stroke-width="0.8" stroke-opacity="0.8"/>
<rect x="480.80" y="13.80" width="5.00" height="5.00" fill="#000000"/>
<text x="500.3" y="20.9" font-size="11.7" font-weight="bold">WPC-0.5%</text>
<path d="M571.3 16.3H598.2" stroke="#ff0000" stroke-width="0.8" stroke-opacity="0.8"/>
<circle cx="584.80" cy="16.30" r="3.10" fill="#ff0000"/>
<text x="602.0" y="20.9" font-size="11.7" font-weight="bold">WPC-1.5%</text>
<path d="M470.2 31.3H496.4" stroke="#0000ff" stroke-width="0.8" stroke-opacity="0.8"/>
<polygon points="483.30,26.77 487.20,33.57 479.40,33.57" fill="#0000ff"/>
<text x="500.3" y="35.9" font-size="11.7" font-weight="bold">SPC-0.5%</text>
<path d="M571.3 31.3H598.2" stroke="#008080" stroke-width="0.8" stroke-opacity="0.8"/>
<polygon points="584.80,35.83 588.70,29.03 580.90,29.03" fill="#008080"/>
<text x="602.0" y="35.9" font-size="11.7" font-weight="bold">SPC-1.5%</text>
<path d="M470.2 46.2H496.4" stroke="#ff00ff" stroke-width="0.8" stroke-opacity="0.8"/>
<polygon points="478.77,46.20 485.57,42.30 485.57,50.10" fill="#ff00ff"/>
<text x="500.3" y="50.8" font-size="11.7" font-weight="bold">WHC-0.5%</text>
<path d="M573.7 46.2H600.2" stroke="#808000" stroke-width="0.8" stroke-opacity="0.8"/>
<polygon points="591.73,46.20 584.93,42.30 584.93,50.10" fill="#808000"/>
<text x="603.6" y="50.8" font-size="11.7" font-weight="bold">WHC-1.5%</text>
<path d="M470.2 61.1H496.4" stroke="#000080" stroke-width="0.8" stroke-opacity="0.8"/>
<polygon points="483.30,57.50 486.95,61.10 483.30,64.70 479.65,61.10" fill="#000080"/>
<text x="500.3" y="65.7" font-size="11.7" font-weight="bold">SHC-0.5%</text>
<path d="M573.7 61.1H600.2" stroke="#800000" stroke-width="0.8" stroke-opacity="0.8"/>
<polygon points="587.20,57.90 590.53,60.32 589.26,64.23 585.14,64.23 583.87,60.32" fill="#800000"/>
<text x="603.6" y="65.7" font-size="11.7" font-weight="bold">SHC-1.5%</text>
<path d="M470.2 75.1H496.4" stroke="#ff0080" stroke-width="0.8" stroke-opacity="0.8"/>
<polygon points="483.30,71.70 486.24,73.40 486.24,76.80 483.30,78.50 480.36,76.80 480.36,73.40" fill="#ff0080"/>
<text x="500.3" y="79.7" font-size="11.7" font-weight="bold">CKU</text>
</svg></body></html>
